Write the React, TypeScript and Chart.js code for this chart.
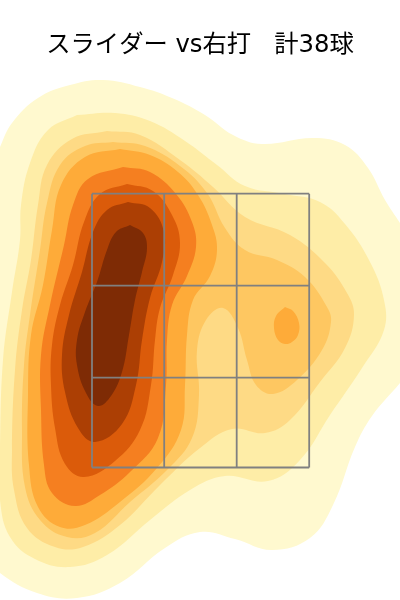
import React, { useEffect, useRef } from "react";
import { Chart, registerables } from "chart.js";

Chart.register(...registerables);

type Pt = [number, number];

const titleText = "スライダー vs右打   計38球";

const band1: Pt[] = [[-12,175],[0,147],[12,123],[38,98],[70,85],[103,80],[140,87],[172,98],[205,115],[233,135],[262,144],[313,138],[345,145],[368,168],[385,200],[400,223],[414,245],[414,365],[400,383],[372,416],[355,447],[333,505],[310,538],[272,550],[235,539],[200,532],[165,548],[120,583],[77,598],[37,593],[0,573],[-14,555],[-14,350]];
const band2: Pt[] = [[77,115],[115,113],[150,121],[185,141],[217,165],[245,186],[285,194],[320,202],[345,224],[370,262],[384,300],[384,330],[362,368],[330,415],[300,460],[268,481],[225,476],[190,490],[150,520],[107,555],[70,567],[35,559],[10,537],[0,500],[0,450],[3,360],[12,292],[20,240],[21,205],[30,163],[48,130]];
const band3: Pt[] = [[107,131],[140,135],[180,160],[213,187],[245,217],[290,235],[325,263],[347,293],[354,315],[345,348],[320,382],[290,420],[265,433],[232,429],[200,448],[160,485],[120,525],[83,547],[55,547],[27,528],[14,490],[12,450],[15,370],[22,310],[31,260],[38,205],[47,165],[72,139]];
const band4: Pt[] = [[113,142],[145,146],[180,166],[207,193],[225,228],[245,250],[277,260],[305,277],[327,307],[331,322],[322,350],[297,380],[273,394],[256,385],[247,360],[238,328],[223,308],[206,320],[197,350],[199,395],[192,438],[167,470],[130,502],[95,533],[67,537],[40,520],[25,487],[22,430],[24,365],[30,315],[40,250],[47,203],[60,165],[85,146]];
const band5: Pt[] = [[120,149],[150,155],[178,172],[198,195],[212,225],[217,250],[210,276],[193,300],[187,335],[185,385],[181,430],[157,468],[120,502],[85,525],[60,527],[38,507],[29,465],[28,395],[31,335],[43,285],[52,230],[61,185],[85,157]];
const band5b: Pt[] = [[285,307],[293,311],[299,323],[298,335],[292,342],[285,344],[278,340],[274,328],[276,316]];
const band6: Pt[] = [[123,167],[150,172],[176,194],[192,222],[196,247],[187,276],[172,305],[167,340],[166,385],[158,438],[130,472],[100,495],[75,506],[52,493],[44,465],[41,410],[41,355],[50,305],[64,245],[73,205],[88,179]];
const band7: Pt[] = [[127,184],[153,191],[172,215],[180,243],[173,275],[160,308],[155,340],[151,385],[140,430],[115,461],[84,477],[65,464],[55,428],[51,385],[52,345],[60,305],[73,265],[84,222],[100,194]];
const band8: Pt[] = [[128,202],[150,208],[164,232],[162,262],[150,298],[142,340],[136,385],[122,424],[95,442],[78,428],[65,392],[62,355],[69,315],[82,272],[93,232],[107,210]];
const band9: Pt[] = [[130,225],[143,233],[147,248],[142,272],[135,300],[129,335],[122,372],[111,396],[98,406],[86,393],[77,365],[77,340],[85,312],[97,282],[107,250],[116,232]];

const zoneX = [92, 164.2, 236.7, 309.2];
const zoneY = [193.7, 285.7, 377.7, 467.5];

const bandColors = ["#FFF9CF", "#FEEDA7", "#FEDA85", "#FEC761", "#FEAB39", "#FEAB39", "#F57F20", "#DB5B0A", "#AC3F04", "#7E2B05"];

const closed = (pts: Pt[]) => [...pts, pts[0]].map(([x, y]) => ({ x, y }));

export default function App() {
  const ref = useRef<HTMLCanvasElement>(null);
  useEffect(() => {
    const bands = [band1, band2, band3, band4, band5, band5b, band6, band7, band8, band9];
    const bandSets = bands.map((b, i) => ({
      data: closed(b),
      showLine: true,
      fill: "shape",
      backgroundColor: bandColors[i],
      borderWidth: 0,
      pointRadius: 0,
      tension: 0.4,
      order: 100 - i,
    }));
    const gridLine = (data: { x: number; y: number }[]) => ({
      data,
      showLine: true,
      fill: false,
      borderColor: "#808080",
      borderWidth: 1.8,
      pointRadius: 0,
      tension: 0,
      order: 0,
    });
    const lines = [
      ...zoneX.map((x) => gridLine([{ x, y: zoneY[0] }, { x, y: zoneY[3] }])),
      ...zoneY.map((y) => gridLine([{ x: zoneX[0], y }, { x: zoneX[3], y }])),
    ];
    const chart = new Chart(ref.current!, {
      type: "scatter",
      data: { datasets: [...lines, ...bandSets] as any },
      options: {
        responsive: false,
        animation: false,
        layout: { padding: 0 },
        scales: {
          x: { type: "linear", display: false, min: 0, max: 400 },
          y: { type: "linear", display: false, min: 70, max: 600, reverse: true },
        },
        plugins: {
          legend: { display: false },
          tooltip: { enabled: false },
          title: {
            display: true,
            text: titleText,
            color: "#000000",
            font: { family: "'DejaVu Sans', 'Noto Sans CJK JP', sans-serif", size: 24.3, weight: "normal", lineHeight: 1.2345679 },
            padding: { top: 31, bottom: 9 },
          },
        },
      } as any,
    });
    return () => chart.destroy();
  }, []);
  return (
    <div style={{ position: "absolute", left: 0, top: 0, width: 400, height: 600 }}>
      <canvas ref={ref} width={400} height={600} style={{ display: "block" }} />
    </div>
  );
}
